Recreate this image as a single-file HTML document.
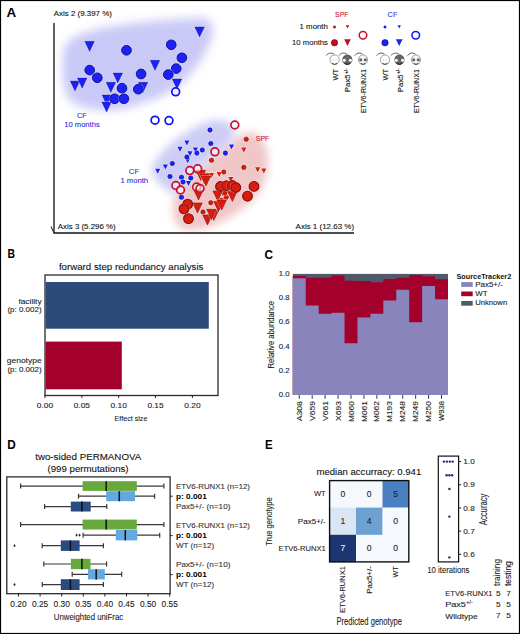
<!DOCTYPE html><html><head><meta charset="utf-8"><style>html,body{margin:0;padding:0;background:#fff;}svg{display:block;}text{font-family:"Liberation Sans",sans-serif;stroke-width:0.1px;paint-order:stroke;}text[font-weight="bold"]{stroke-width:0;}</style></head><body>
<svg width="520" height="634" viewBox="0 0 520 634">
<defs><filter id="bl1" x="-30%" y="-30%" width="160%" height="160%"><feGaussianBlur stdDeviation="5"/></filter><filter id="bl2" x="-30%" y="-30%" width="160%" height="160%"><feGaussianBlur stdDeviation="4"/></filter><filter id="bl3" x="-30%" y="-30%" width="160%" height="160%"><feGaussianBlur stdDeviation="4"/></filter></defs>
<rect x="0" y="0" width="520" height="634" fill="#fff"/>
<text x="6.50" y="16.80" font-size="12" fill="#000" stroke="#000" font-weight="bold" textLength="9.70" lengthAdjust="spacingAndGlyphs">A</text>
<path filter="url(#bl1)" d="M68,42 C80,28 140,20 202,18 C213,18 215,28 211,40 C205,56 194,72 181,84 C170,94 150,101 130,107 C110,113 85,110 72,102 C62,94 62,70 63,58 C63,50 65,45 68,42 Z" fill="#c9c9f7"/>
<path filter="url(#bl2)" d="M173,205 C172,195 185,180 200,168 C215,155 232,138 246,133 C255,131 263,137 266,148 C270,160 268,175 262,188 C255,200 240,212 225,220 C210,228 195,232 183,229 C175,226 173,215 173,205 Z" fill="#f0c6c7"/>
<path filter="url(#bl3)" opacity="0.88" d="M153,165 C160,150 185,130 209,121 C220,118 230,120 234,128 C238,136 228,146 215,155 C200,166 190,178 182,192 C175,196 165,190 158,182 C152,176 150,170 153,165 Z" fill="#c6c6f4"/>
<line x1="54" y1="22.9" x2="54" y2="233" stroke="#3a3a3a" stroke-width="1.6"/>
<line x1="53.4" y1="233" x2="354" y2="233" stroke="#111" stroke-width="1.5"/>
<line x1="51" y1="226.5" x2="54" y2="233" stroke="#333" stroke-width="1.1"/>
<text x="53.80" y="16.20" font-size="7.4" fill="#111" stroke="#111" font-weight="normal" textLength="58.10" lengthAdjust="spacingAndGlyphs">Axis 2 (9.397 %)</text>
<text x="57.80" y="228.80" font-size="7.4" fill="#111" stroke="#111" font-weight="normal" textLength="57.90" lengthAdjust="spacingAndGlyphs">Axis 3 (5.296 %)</text>
<text x="295.60" y="228.80" font-size="7.4" fill="#111" stroke="#111" font-weight="normal" textLength="58.50" lengthAdjust="spacingAndGlyphs">Axis 1 (12.63 %)</text>
<text x="76.90" y="118.20" font-size="7" fill="#3030e6" stroke="#3030e6" font-weight="normal" textLength="9.70" lengthAdjust="spacingAndGlyphs">CF</text>
<text x="64.30" y="127.00" font-size="7" fill="#3030e6" stroke="#3030e6" font-weight="normal" textLength="35.40" lengthAdjust="spacingAndGlyphs">10 months</text>
<text x="128.80" y="173.80" font-size="7" fill="#3030e6" stroke="#3030e6" font-weight="normal" textLength="10.40" lengthAdjust="spacingAndGlyphs">CF</text>
<text x="120.40" y="182.60" font-size="7" fill="#3030e6" stroke="#3030e6" font-weight="normal" textLength="27.70" lengthAdjust="spacingAndGlyphs">1 month</text>
<text x="255.70" y="141.25" font-size="7.6" fill="#cc1c30" stroke="#cc1c30" font-weight="normal" textLength="13.70" lengthAdjust="spacingAndGlyphs">SPF</text>
<polygon points="84.8,41.3 94.4,41.3 89.6,51.5" fill="none" stroke="#fff" stroke-width="1.6" opacity="0.5" stroke-linejoin="round"/><polygon points="84.8,41.3 94.4,41.3 89.6,51.5" fill="#1c22f5" stroke="#0a0a90" stroke-width="0.4"/>
<polygon points="70.2,80.9 79.8,80.9 75.0,91.1" fill="none" stroke="#fff" stroke-width="1.6" opacity="0.5" stroke-linejoin="round"/><polygon points="70.2,80.9 79.8,80.9 75.0,91.1" fill="#1c22f5" stroke="#0a0a90" stroke-width="0.4"/>
<polygon points="77.4,78.1 87.0,78.1 82.2,88.3" fill="none" stroke="#fff" stroke-width="1.6" opacity="0.5" stroke-linejoin="round"/><polygon points="77.4,78.1 87.0,78.1 82.2,88.3" fill="#1c22f5" stroke="#0a0a90" stroke-width="0.4"/>
<polygon points="113.0,72.9 122.6,72.9 117.8,83.1" fill="none" stroke="#fff" stroke-width="1.6" opacity="0.5" stroke-linejoin="round"/><polygon points="113.0,72.9 122.6,72.9 117.8,83.1" fill="#1c22f5" stroke="#0a0a90" stroke-width="0.4"/>
<polygon points="106.1,82.3 115.7,82.3 110.9,92.5" fill="none" stroke="#fff" stroke-width="1.6" opacity="0.5" stroke-linejoin="round"/><polygon points="106.1,82.3 115.7,82.3 110.9,92.5" fill="#1c22f5" stroke="#0a0a90" stroke-width="0.4"/>
<polygon points="102.0,94.9 111.6,94.9 106.8,105.1" fill="none" stroke="#fff" stroke-width="1.6" opacity="0.5" stroke-linejoin="round"/><polygon points="102.0,94.9 111.6,94.9 106.8,105.1" fill="#1c22f5" stroke="#0a0a90" stroke-width="0.4"/>
<polygon points="101.8,101.9 111.4,101.9 106.6,112.1" fill="none" stroke="#fff" stroke-width="1.6" opacity="0.5" stroke-linejoin="round"/><polygon points="101.8,101.9 111.4,101.9 106.6,112.1" fill="#1c22f5" stroke="#0a0a90" stroke-width="0.4"/>
<polygon points="194.8,26.9 204.4,26.9 199.6,37.1" fill="none" stroke="#fff" stroke-width="1.6" opacity="0.5" stroke-linejoin="round"/><polygon points="194.8,26.9 204.4,26.9 199.6,37.1" fill="#1c22f5" stroke="#0a0a90" stroke-width="0.4"/>
<polygon points="150.2,60.3 159.8,60.3 155.0,70.5" fill="none" stroke="#fff" stroke-width="1.6" opacity="0.5" stroke-linejoin="round"/><polygon points="150.2,60.3 159.8,60.3 155.0,70.5" fill="#1c22f5" stroke="#0a0a90" stroke-width="0.4"/>
<polygon points="172.2,78.9 181.8,78.9 177.0,89.1" fill="none" stroke="#fff" stroke-width="1.6" opacity="0.5" stroke-linejoin="round"/><polygon points="172.2,78.9 181.8,78.9 177.0,89.1" fill="#1c22f5" stroke="#0a0a90" stroke-width="0.4"/>
<polygon points="138.2,82.3 147.8,82.3 143.0,92.5" fill="none" stroke="#fff" stroke-width="1.6" opacity="0.5" stroke-linejoin="round"/><polygon points="138.2,82.3 147.8,82.3 143.0,92.5" fill="#1c22f5" stroke="#0a0a90" stroke-width="0.4"/>
<circle cx="126.5" cy="50.3" r="5.800000000000001" fill="#fff" opacity="0.5"/><circle cx="126.5" cy="50.3" r="4.9" fill="#1c22f5" stroke="#0a0a90" stroke-width="0.9"/>
<circle cx="89.7" cy="70.1" r="5.800000000000001" fill="#fff" opacity="0.5"/><circle cx="89.7" cy="70.1" r="4.9" fill="#1c22f5" stroke="#0a0a90" stroke-width="0.9"/>
<circle cx="97.3" cy="77.8" r="5.800000000000001" fill="#fff" opacity="0.5"/><circle cx="97.3" cy="77.8" r="4.9" fill="#1c22f5" stroke="#0a0a90" stroke-width="0.9"/>
<circle cx="122" cy="88.2" r="5.800000000000001" fill="#fff" opacity="0.5"/><circle cx="122" cy="88.2" r="4.9" fill="#1c22f5" stroke="#0a0a90" stroke-width="0.9"/>
<circle cx="114.6" cy="98.8" r="5.800000000000001" fill="#fff" opacity="0.5"/><circle cx="114.6" cy="98.8" r="4.9" fill="#1c22f5" stroke="#0a0a90" stroke-width="0.9"/>
<circle cx="123.9" cy="98.8" r="5.800000000000001" fill="#fff" opacity="0.5"/><circle cx="123.9" cy="98.8" r="4.9" fill="#1c22f5" stroke="#0a0a90" stroke-width="0.9"/>
<circle cx="171.25" cy="44.8" r="5.800000000000001" fill="#fff" opacity="0.5"/><circle cx="171.25" cy="44.8" r="4.9" fill="#1c22f5" stroke="#0a0a90" stroke-width="0.9"/>
<circle cx="181.9" cy="57.8" r="5.800000000000001" fill="#fff" opacity="0.5"/><circle cx="181.9" cy="57.8" r="4.9" fill="#1c22f5" stroke="#0a0a90" stroke-width="0.9"/>
<circle cx="176.2" cy="68.6" r="5.800000000000001" fill="#fff" opacity="0.5"/><circle cx="176.2" cy="68.6" r="4.9" fill="#1c22f5" stroke="#0a0a90" stroke-width="0.9"/>
<circle cx="141.1" cy="74" r="5.800000000000001" fill="#fff" opacity="0.5"/><circle cx="141.1" cy="74" r="4.9" fill="#1c22f5" stroke="#0a0a90" stroke-width="0.9"/>
<circle cx="168.3" cy="74.6" r="5.800000000000001" fill="#fff" opacity="0.5"/><circle cx="168.3" cy="74.6" r="4.9" fill="#1c22f5" stroke="#0a0a90" stroke-width="0.9"/>
<circle cx="138.3" cy="89.2" r="5.800000000000001" fill="#fff" opacity="0.5"/><circle cx="138.3" cy="89.2" r="4.9" fill="#1c22f5" stroke="#0a0a90" stroke-width="0.9"/>
<circle cx="175.7" cy="91.8" r="3.9" fill="#fff" fill-opacity="0.55" stroke="#1010ff" stroke-width="1.7"/>
<circle cx="155" cy="120.2" r="3.9" fill="#fff" fill-opacity="0.55" stroke="#1010ff" stroke-width="1.7"/>
<circle cx="169" cy="120.6" r="3.9" fill="#fff" fill-opacity="0.55" stroke="#1010ff" stroke-width="1.7"/>
<polygon points="184.3,140.6 189.5,140.6 186.9,145.6" fill="none" stroke="#fff" stroke-width="1.6" opacity="0.5" stroke-linejoin="round"/><polygon points="184.3,140.6 189.5,140.6 186.9,145.6" fill="#1c22f5"/>
<polygon points="177.4,146.7 182.6,146.7 180.0,151.7" fill="none" stroke="#fff" stroke-width="1.6" opacity="0.5" stroke-linejoin="round"/><polygon points="177.4,146.7 182.6,146.7 180.0,151.7" fill="#1c22f5"/>
<polygon points="192.8,147.5 198.0,147.5 195.4,152.5" fill="none" stroke="#fff" stroke-width="1.6" opacity="0.5" stroke-linejoin="round"/><polygon points="192.8,147.5 198.0,147.5 195.4,152.5" fill="#1c22f5"/>
<polygon points="187.4,151.3 192.6,151.3 190.0,156.3" fill="none" stroke="#fff" stroke-width="1.6" opacity="0.5" stroke-linejoin="round"/><polygon points="187.4,151.3 192.6,151.3 190.0,156.3" fill="#1c22f5"/>
<polygon points="185.1,158.3 190.3,158.3 187.7,163.3" fill="none" stroke="#fff" stroke-width="1.6" opacity="0.5" stroke-linejoin="round"/><polygon points="185.1,158.3 190.3,158.3 187.7,163.3" fill="#1c22f5"/>
<polygon points="162.8,164.5 168.0,164.5 165.4,169.5" fill="none" stroke="#fff" stroke-width="1.6" opacity="0.5" stroke-linejoin="round"/><polygon points="162.8,164.5 168.0,164.5 165.4,169.5" fill="#1c22f5"/>
<polygon points="155.1,168.7 160.3,168.7 157.7,173.7" fill="none" stroke="#fff" stroke-width="1.6" opacity="0.5" stroke-linejoin="round"/><polygon points="155.1,168.7 160.3,168.7 157.7,173.7" fill="#1c22f5"/>
<polygon points="228.9,144.4 234.1,144.4 231.5,149.4" fill="none" stroke="#fff" stroke-width="1.6" opacity="0.5" stroke-linejoin="round"/><polygon points="228.9,144.4 234.1,144.4 231.5,149.4" fill="#1c22f5"/>
<polygon points="185.9,181.0 191.1,181.0 188.5,186.0" fill="none" stroke="#fff" stroke-width="1.6" opacity="0.5" stroke-linejoin="round"/><polygon points="185.9,181.0 191.1,181.0 188.5,186.0" fill="#1c22f5"/>
<circle cx="196.9" cy="153.1" r="3.1999999999999997" fill="#fff" opacity="0.5"/><circle cx="196.9" cy="153.1" r="2.3" fill="#1c22f5" stroke="#0a0a90" stroke-width="0.5"/>
<circle cx="186.9" cy="157" r="3.1999999999999997" fill="#fff" opacity="0.5"/><circle cx="186.9" cy="157" r="2.3" fill="#1c22f5" stroke="#0a0a90" stroke-width="0.5"/>
<circle cx="172.3" cy="163.5" r="3.1999999999999997" fill="#fff" opacity="0.5"/><circle cx="172.3" cy="163.5" r="2.3" fill="#1c22f5" stroke="#0a0a90" stroke-width="0.5"/>
<circle cx="170" cy="176.5" r="3.1999999999999997" fill="#fff" opacity="0.5"/><circle cx="170" cy="176.5" r="2.3" fill="#1c22f5" stroke="#0a0a90" stroke-width="0.5"/>
<circle cx="210" cy="130" r="3.1999999999999997" fill="#fff" opacity="0.5"/><circle cx="210" cy="130" r="2.3" fill="#1c22f5" stroke="#0a0a90" stroke-width="0.5"/>
<circle cx="210.8" cy="143.5" r="3.1999999999999997" fill="#fff" opacity="0.5"/><circle cx="210.8" cy="143.5" r="2.3" fill="#1c22f5" stroke="#0a0a90" stroke-width="0.5"/>
<circle cx="202.3" cy="150" r="3.1999999999999997" fill="#fff" opacity="0.5"/><circle cx="202.3" cy="150" r="2.3" fill="#1c22f5" stroke="#0a0a90" stroke-width="0.5"/>
<circle cx="225.4" cy="153.1" r="3.1999999999999997" fill="#fff" opacity="0.5"/><circle cx="225.4" cy="153.1" r="2.3" fill="#1c22f5" stroke="#0a0a90" stroke-width="0.5"/>
<circle cx="181.5" cy="177.3" r="3.1999999999999997" fill="#fff" opacity="0.5"/><circle cx="181.5" cy="177.3" r="2.3" fill="#1c22f5" stroke="#0a0a90" stroke-width="0.5"/>
<circle cx="190.8" cy="178" r="3.1999999999999997" fill="#fff" opacity="0.5"/><circle cx="190.8" cy="178" r="2.3" fill="#1c22f5" stroke="#0a0a90" stroke-width="0.5"/>
<circle cx="183" cy="182" r="3.1999999999999997" fill="#fff" opacity="0.5"/><circle cx="183" cy="182" r="2.3" fill="#1c22f5" stroke="#0a0a90" stroke-width="0.5"/>
<circle cx="181.5" cy="197.3" r="3.1999999999999997" fill="#fff" opacity="0.5"/><circle cx="181.5" cy="197.3" r="2.3" fill="#1c22f5" stroke="#0a0a90" stroke-width="0.5"/>
<polygon points="241.2,147.5 246.4,147.5 243.8,152.5" fill="none" stroke="#fff" stroke-width="1.6" opacity="0.5" stroke-linejoin="round"/><polygon points="241.2,147.5 246.4,147.5 243.8,152.5" fill="#d81c0e"/>
<polygon points="216.6,172.1 221.8,172.1 219.2,177.1" fill="none" stroke="#fff" stroke-width="1.6" opacity="0.5" stroke-linejoin="round"/><polygon points="216.6,172.1 221.8,172.1 219.2,177.1" fill="#d81c0e"/>
<polygon points="208.9,172.9 214.1,172.9 211.5,177.9" fill="none" stroke="#fff" stroke-width="1.6" opacity="0.5" stroke-linejoin="round"/><polygon points="208.9,172.9 214.1,172.9 211.5,177.9" fill="#d81c0e"/>
<polygon points="228.2,177.1 233.4,177.1 230.8,182.1" fill="none" stroke="#fff" stroke-width="1.6" opacity="0.5" stroke-linejoin="round"/><polygon points="228.2,177.1 233.4,177.1 230.8,182.1" fill="#d81c0e"/>
<polygon points="255.1,167.2 260.3,167.2 257.7,172.2" fill="none" stroke="#fff" stroke-width="1.6" opacity="0.5" stroke-linejoin="round"/><polygon points="255.1,167.2 260.3,167.2 257.7,172.2" fill="#d81c0e"/>
<polygon points="261.2,168.5 266.4,168.5 263.8,173.5" fill="none" stroke="#fff" stroke-width="1.6" opacity="0.5" stroke-linejoin="round"/><polygon points="261.2,168.5 266.4,168.5 263.8,173.5" fill="#d81c0e"/>
<circle cx="246.2" cy="139.2" r="3.1999999999999997" fill="#fff" opacity="0.5"/><circle cx="246.2" cy="139.2" r="2.3" fill="#d81c0e" stroke="#8a0a0a" stroke-width="0.5"/>
<circle cx="211.5" cy="160.3" r="3.1999999999999997" fill="#fff" opacity="0.5"/><circle cx="211.5" cy="160.3" r="2.3" fill="#d81c0e" stroke="#8a0a0a" stroke-width="0.5"/>
<circle cx="243.8" cy="167.4" r="3.1999999999999997" fill="#fff" opacity="0.5"/><circle cx="243.8" cy="167.4" r="2.3" fill="#d81c0e" stroke="#8a0a0a" stroke-width="0.5"/>
<circle cx="223.8" cy="172" r="3.1999999999999997" fill="#fff" opacity="0.5"/><circle cx="223.8" cy="172" r="2.3" fill="#d81c0e" stroke="#8a0a0a" stroke-width="0.5"/>
<circle cx="210.8" cy="202.7" r="3.1999999999999997" fill="#fff" opacity="0.5"/><circle cx="210.8" cy="202.7" r="2.3" fill="#d81c0e" stroke="#8a0a0a" stroke-width="0.5"/>
<circle cx="203" cy="212" r="3.1999999999999997" fill="#fff" opacity="0.5"/><circle cx="203" cy="212" r="2.3" fill="#d81c0e" stroke="#8a0a0a" stroke-width="0.5"/>
<circle cx="223.8" cy="193.5" r="3.1999999999999997" fill="#fff" opacity="0.5"/><circle cx="223.8" cy="193.5" r="2.3" fill="#d81c0e" stroke="#8a0a0a" stroke-width="0.5"/>
<circle cx="226.2" cy="197.3" r="3.1999999999999997" fill="#fff" opacity="0.5"/><circle cx="226.2" cy="197.3" r="2.3" fill="#d81c0e" stroke="#8a0a0a" stroke-width="0.5"/>
<circle cx="221.5" cy="200.4" r="3.1999999999999997" fill="#fff" opacity="0.5"/><circle cx="221.5" cy="200.4" r="2.3" fill="#d81c0e" stroke="#8a0a0a" stroke-width="0.5"/>
<circle cx="232.3" cy="195.8" r="3.1999999999999997" fill="#fff" opacity="0.5"/><circle cx="232.3" cy="195.8" r="2.3" fill="#d81c0e" stroke="#8a0a0a" stroke-width="0.5"/>
<circle cx="225" cy="193" r="3.1999999999999997" fill="#fff" opacity="0.5"/><circle cx="225" cy="193" r="2.3" fill="#d81c0e" stroke="#8a0a0a" stroke-width="0.5"/>
<polygon points="196.0,170.3 205.6,170.3 200.8,180.5" fill="none" stroke="#fff" stroke-width="1.6" opacity="0.5" stroke-linejoin="round"/><polygon points="196.0,170.3 205.6,170.3 200.8,180.5" fill="#d81c0e" stroke="#8a0a0a" stroke-width="0.6"/>
<polygon points="199.8,173.7 209.4,173.7 204.6,183.9" fill="none" stroke="#fff" stroke-width="1.6" opacity="0.5" stroke-linejoin="round"/><polygon points="199.8,173.7 209.4,173.7 204.6,183.9" fill="#d81c0e" stroke="#8a0a0a" stroke-width="0.6"/>
<polygon points="201.2,175.9 210.8,175.9 206.0,186.1" fill="none" stroke="#fff" stroke-width="1.6" opacity="0.5" stroke-linejoin="round"/><polygon points="201.2,175.9 210.8,175.9 206.0,186.1" fill="#d81c0e" stroke="#8a0a0a" stroke-width="0.6"/>
<polygon points="192.7,202.9 202.3,202.9 197.5,213.1" fill="none" stroke="#fff" stroke-width="1.6" opacity="0.5" stroke-linejoin="round"/><polygon points="192.7,202.9 202.3,202.9 197.5,213.1" fill="#d81c0e" stroke="#8a0a0a" stroke-width="0.6"/>
<polygon points="193.7,189.9 203.3,189.9 198.5,200.1" fill="none" stroke="#fff" stroke-width="1.6" opacity="0.5" stroke-linejoin="round"/><polygon points="193.7,189.9 203.3,189.9 198.5,200.1" fill="#d81c0e" stroke="#8a0a0a" stroke-width="0.6"/>
<polygon points="209.0,210.4 218.6,210.4 213.8,220.6" fill="none" stroke="#fff" stroke-width="1.6" opacity="0.5" stroke-linejoin="round"/><polygon points="209.0,210.4 218.6,210.4 213.8,220.6" fill="#d81c0e" stroke="#8a0a0a" stroke-width="0.6"/>
<polygon points="202.7,214.9 212.3,214.9 207.5,225.1" fill="none" stroke="#fff" stroke-width="1.6" opacity="0.5" stroke-linejoin="round"/><polygon points="202.7,214.9 212.3,214.9 207.5,225.1" fill="#d81c0e" stroke="#8a0a0a" stroke-width="0.6"/>
<polygon points="213.7,201.4 223.3,201.4 218.5,211.6" fill="none" stroke="#fff" stroke-width="1.6" opacity="0.5" stroke-linejoin="round"/><polygon points="213.7,201.4 223.3,201.4 218.5,211.6" fill="#d81c0e" stroke="#8a0a0a" stroke-width="0.6"/>
<polygon points="212.9,190.9 222.5,190.9 217.7,201.1" fill="none" stroke="#fff" stroke-width="1.6" opacity="0.5" stroke-linejoin="round"/><polygon points="212.9,190.9 222.5,190.9 217.7,201.1" fill="#d81c0e" stroke="#8a0a0a" stroke-width="0.6"/>
<polygon points="227.6,191.4 237.2,191.4 232.4,201.6" fill="none" stroke="#fff" stroke-width="1.6" opacity="0.5" stroke-linejoin="round"/><polygon points="227.6,191.4 237.2,191.4 232.4,201.6" fill="#d81c0e" stroke="#8a0a0a" stroke-width="0.6"/>
<polygon points="216.9,199.9 226.5,199.9 221.7,210.1" fill="none" stroke="#fff" stroke-width="1.6" opacity="0.5" stroke-linejoin="round"/><polygon points="216.9,199.9 226.5,199.9 221.7,210.1" fill="#d81c0e" stroke="#8a0a0a" stroke-width="0.6"/>
<polygon points="206.7,209.3 216.3,209.3 211.5,219.5" fill="none" stroke="#fff" stroke-width="1.6" opacity="0.5" stroke-linejoin="round"/><polygon points="206.7,209.3 216.3,209.3 211.5,219.5" fill="#d81c0e" stroke="#8a0a0a" stroke-width="0.6"/>
<circle cx="220.5" cy="186.5" r="5.800000000000001" fill="#fff" opacity="0.5"/><circle cx="220.5" cy="186.5" r="4.9" fill="#d81c0e" stroke="#8a0a0a" stroke-width="1.1"/>
<circle cx="226.5" cy="185.6" r="5.800000000000001" fill="#fff" opacity="0.5"/><circle cx="226.5" cy="185.6" r="4.9" fill="#d81c0e" stroke="#8a0a0a" stroke-width="1.1"/>
<circle cx="232.3" cy="185.5" r="5.800000000000001" fill="#fff" opacity="0.5"/><circle cx="232.3" cy="185.5" r="4.9" fill="#d81c0e" stroke="#8a0a0a" stroke-width="1.1"/>
<circle cx="235.8" cy="187.5" r="5.800000000000001" fill="#fff" opacity="0.5"/><circle cx="235.8" cy="187.5" r="4.9" fill="#d81c0e" stroke="#8a0a0a" stroke-width="1.1"/>
<circle cx="187.7" cy="204.2" r="5.800000000000001" fill="#fff" opacity="0.5"/><circle cx="187.7" cy="204.2" r="4.9" fill="#d81c0e" stroke="#8a0a0a" stroke-width="1.1"/>
<circle cx="184" cy="208.8" r="5.800000000000001" fill="#fff" opacity="0.5"/><circle cx="184" cy="208.8" r="4.9" fill="#d81c0e" stroke="#8a0a0a" stroke-width="1.1"/>
<circle cx="188.5" cy="218.6" r="5.800000000000001" fill="#fff" opacity="0.5"/><circle cx="188.5" cy="218.6" r="4.9" fill="#d81c0e" stroke="#8a0a0a" stroke-width="1.1"/>
<circle cx="254" cy="186.4" r="5.800000000000001" fill="#fff" opacity="0.5"/><circle cx="254" cy="186.4" r="4.9" fill="#d81c0e" stroke="#8a0a0a" stroke-width="1.1"/>
<circle cx="247.5" cy="196.2" r="5.800000000000001" fill="#fff" opacity="0.5"/><circle cx="247.5" cy="196.2" r="4.9" fill="#d81c0e" stroke="#8a0a0a" stroke-width="1.1"/>
<circle cx="234.8" cy="125" r="3.9" fill="#fff" fill-opacity="0.55" stroke="#c8102e" stroke-width="1.7"/>
<circle cx="214.9" cy="151.8" r="3.9" fill="#fff" fill-opacity="0.55" stroke="#c8102e" stroke-width="1.7"/>
<circle cx="189.8" cy="170.6" r="3.9" fill="#fff" fill-opacity="0.55" stroke="#c8102e" stroke-width="1.7"/>
<circle cx="197.7" cy="168.8" r="3.9" fill="#fff" fill-opacity="0.55" stroke="#c8102e" stroke-width="1.7"/>
<circle cx="175.9" cy="185.5" r="3.9" fill="#fff" fill-opacity="0.55" stroke="#c8102e" stroke-width="1.7"/>
<circle cx="180.5" cy="190" r="3.9" fill="#fff" fill-opacity="0.55" stroke="#c8102e" stroke-width="1.7"/>
<circle cx="196.6" cy="187" r="3.9" fill="#fff" fill-opacity="0.55" stroke="#c8102e" stroke-width="1.7"/>
<circle cx="200" cy="188.5" r="3.9" fill="#fff" fill-opacity="0.55" stroke="#c8102e" stroke-width="1.7"/>
<text x="335.10" y="17.25" font-size="7.2" fill="#c4142c" stroke="#c4142c" font-weight="normal" textLength="13.30" lengthAdjust="spacingAndGlyphs">SPF</text>
<text x="387.60" y="17.25" font-size="7.2" fill="#3030e6" stroke="#3030e6" font-weight="normal" textLength="9.80" lengthAdjust="spacingAndGlyphs">CF</text>
<text x="299.60" y="29.00" font-size="7.2" fill="#111" stroke="#111" font-weight="normal" textLength="28.30" lengthAdjust="spacingAndGlyphs">1 month</text>
<text x="292.10" y="44.75" font-size="7.2" fill="#111" stroke="#111" font-weight="normal" textLength="35.80" lengthAdjust="spacingAndGlyphs">10 months</text>
<circle cx="334.5" cy="27" r="1.3" fill="#c01020" stroke="#700" stroke-width="0.3"/>
<polygon points="345.8,25.2 349.2,25.2 347.5,28.4" fill="#c01020"/>
<circle cx="385" cy="27" r="1.3" fill="#1c22f5" stroke="#0a0a90" stroke-width="0.3"/>
<polygon points="397.6,25.2 400.9,25.2 399.2,28.4" fill="#1c22f5"/>
<circle cx="334.5" cy="42.75" r="3.2" fill="#c01020" stroke="#700" stroke-width="0.6"/>
<polygon points="344.2,39.3 350.8,39.3 347.5,45.9" fill="#c01020"/>
<circle cx="385" cy="42.75" r="3.2" fill="#1c22f5" stroke="#0a0a90" stroke-width="0.6"/>
<polygon points="395.9,39.3 402.6,39.3 399.2,45.9" fill="#1c22f5"/>
<circle cx="363" cy="35.25" r="3.8" fill="#fff" fill-opacity="0.55" stroke="#c8102e" stroke-width="1.5"/>
<circle cx="415.75" cy="35.25" r="3.8" fill="#fff" fill-opacity="0.55" stroke="#1010ff" stroke-width="1.5"/>
<path d="M326.1,55.599999999999994 C328.1,53.5 330.6,51.8 334.1,54.199999999999996" fill="none" stroke="#333" stroke-width="0.8"/><ellipse cx="334.6" cy="59.8" rx="4.6" ry="4.9" fill="#fff" stroke="#888" stroke-width="0.8"/><path d="M332.0,63.4 Q334.6,65.2 337.20000000000005,63.4" fill="none" stroke="#444" stroke-width="1"/><path d="M332.6,59.4 l1.2,0.8 M336.6,59.4 l-1.2,0.8" stroke="#999" stroke-width="0.6"/>
<path d="M338.8,55.599999999999994 C340.8,53.5 343.3,51.8 346.8,54.199999999999996" fill="none" stroke="#333" stroke-width="0.8"/><ellipse cx="347.3" cy="59.8" rx="4.6" ry="4.9" fill="#666" stroke="#444" stroke-width="0.8"/><circle cx="344.2" cy="60.199999999999996" r="1.5" fill="#fff"/><circle cx="350.40000000000003" cy="60.199999999999996" r="1.5" fill="#fff"/><path d="M344.90000000000003,63.4 Q347.3,65.2 349.7,63.4" fill="none" stroke="#222" stroke-width="1"/>
<path d="M354.5,55.599999999999994 C356.5,53.5 359,51.8 362.5,54.199999999999996" fill="none" stroke="#333" stroke-width="0.8"/><ellipse cx="363" cy="59.8" rx="4.6" ry="4.9" fill="#f6f6f6" stroke="#888" stroke-width="0.8"/><circle cx="360.7" cy="59.8" r="1.6" fill="#666"/><circle cx="365.3" cy="59.8" r="1.6" fill="#666"/><path d="M360.6,63.4 Q363,65.2 365.4,63.4" fill="none" stroke="#444" stroke-width="1"/>
<path d="M376.5,55.599999999999994 C378.5,53.5 381,51.8 384.5,54.199999999999996" fill="none" stroke="#333" stroke-width="0.8"/><ellipse cx="385" cy="59.8" rx="4.6" ry="4.9" fill="#fff" stroke="#888" stroke-width="0.8"/><path d="M382.4,63.4 Q385,65.2 387.6,63.4" fill="none" stroke="#444" stroke-width="1"/><path d="M383,59.4 l1.2,0.8 M387,59.4 l-1.2,0.8" stroke="#999" stroke-width="0.6"/>
<path d="M390.9,55.599999999999994 C392.9,53.5 395.4,51.8 398.9,54.199999999999996" fill="none" stroke="#333" stroke-width="0.8"/><ellipse cx="399.4" cy="59.8" rx="4.6" ry="4.9" fill="#666" stroke="#444" stroke-width="0.8"/><circle cx="396.29999999999995" cy="60.199999999999996" r="1.5" fill="#fff"/><circle cx="402.5" cy="60.199999999999996" r="1.5" fill="#fff"/><path d="M397.0,63.4 Q399.4,65.2 401.79999999999995,63.4" fill="none" stroke="#222" stroke-width="1"/>
<path d="M407.5,55.599999999999994 C409.5,53.5 412,51.8 415.5,54.199999999999996" fill="none" stroke="#333" stroke-width="0.8"/><ellipse cx="416" cy="59.8" rx="4.6" ry="4.9" fill="#f6f6f6" stroke="#888" stroke-width="0.8"/><circle cx="413.7" cy="59.8" r="1.6" fill="#666"/><circle cx="418.3" cy="59.8" r="1.6" fill="#666"/><path d="M413.6,63.4 Q416,65.2 418.4,63.4" fill="none" stroke="#444" stroke-width="1"/>
<text transform="translate(338.20,80.40) rotate(-90)" x="0" y="0" font-size="7.2" fill="#111" stroke="#111" font-weight="normal" textLength="11.50" lengthAdjust="spacingAndGlyphs">WT</text>
<text transform="translate(350.30,92.20) rotate(-90)" x="0" y="0" font-size="7.2" fill="#111" stroke="#111" font-weight="normal" textLength="23.90" lengthAdjust="spacingAndGlyphs">Pax5<tspan font-size="4.6" dy="-2.8">+/-</tspan></text>
<text transform="translate(365.90,113.10) rotate(-90)" x="0" y="0" font-size="7.2" fill="#111" stroke="#111" font-weight="normal" textLength="43.90" lengthAdjust="spacingAndGlyphs">ETV6-RUNX1</text>
<text transform="translate(388.20,80.40) rotate(-90)" x="0" y="0" font-size="7.2" fill="#111" stroke="#111" font-weight="normal" textLength="11.50" lengthAdjust="spacingAndGlyphs">WT</text>
<text transform="translate(403.20,92.20) rotate(-90)" x="0" y="0" font-size="7.2" fill="#111" stroke="#111" font-weight="normal" textLength="23.90" lengthAdjust="spacingAndGlyphs">Pax5<tspan font-size="4.6" dy="-2.8">+/-</tspan></text>
<text transform="translate(418.70,113.10) rotate(-90)" x="0" y="0" font-size="7.2" fill="#111" stroke="#111" font-weight="normal" textLength="43.90" lengthAdjust="spacingAndGlyphs">ETV6-RUNX1</text>
<text x="7.40" y="258.30" font-size="12" fill="#000" stroke="#000" font-weight="bold" textLength="7.50" lengthAdjust="spacingAndGlyphs">B</text>
<text x="58.90" y="269.50" font-size="9.6" fill="#111" stroke="#111" font-weight="normal" textLength="144.50" lengthAdjust="spacingAndGlyphs">forward step redundancy analysis</text>
<rect x="45" y="275" width="173" height="120.5" fill="none" stroke="#2a2a2a" stroke-width="1.3"/>
<rect x="45.6" y="282" width="163.2" height="46.7" fill="#2d4a7b"/>
<rect x="45.6" y="341.6" width="76.2" height="47.7" fill="#a3002b"/>
<text x="18.40" y="303.80" font-size="7.8" fill="#222" stroke="#222" font-weight="normal" textLength="23.20" lengthAdjust="spacingAndGlyphs">facility</text>
<text x="7.40" y="312.30" font-size="7.2" fill="#222" stroke="#222" font-weight="normal" textLength="34.20" lengthAdjust="spacingAndGlyphs">(p: 0.002)</text>
<text x="6.80" y="363.10" font-size="7.8" fill="#222" stroke="#222" font-weight="normal" textLength="34.80" lengthAdjust="spacingAndGlyphs">genotype</text>
<text x="7.40" y="372.40" font-size="7.2" fill="#222" stroke="#222" font-weight="normal" textLength="34.20" lengthAdjust="spacingAndGlyphs">(p: 0.002)</text>
<line x1="45.00" y1="395" x2="45.00" y2="398" stroke="#222" stroke-width="1"/>
<text x="36.85" y="408.25" font-size="7.8" fill="#222" stroke="#222" font-weight="normal" textLength="16.30" lengthAdjust="spacingAndGlyphs">0.00</text>
<line x1="81.85" y1="395" x2="81.85" y2="398" stroke="#222" stroke-width="1"/>
<text x="73.70" y="408.25" font-size="7.8" fill="#222" stroke="#222" font-weight="normal" textLength="16.30" lengthAdjust="spacingAndGlyphs">0.05</text>
<line x1="118.70" y1="395" x2="118.70" y2="398" stroke="#222" stroke-width="1"/>
<text x="110.55" y="408.25" font-size="7.8" fill="#222" stroke="#222" font-weight="normal" textLength="16.30" lengthAdjust="spacingAndGlyphs">0.10</text>
<line x1="155.55" y1="395" x2="155.55" y2="398" stroke="#222" stroke-width="1"/>
<text x="147.40" y="408.25" font-size="7.8" fill="#222" stroke="#222" font-weight="normal" textLength="16.30" lengthAdjust="spacingAndGlyphs">0.15</text>
<line x1="192.40" y1="395" x2="192.40" y2="398" stroke="#222" stroke-width="1"/>
<text x="184.25" y="408.25" font-size="7.8" fill="#222" stroke="#222" font-weight="normal" textLength="16.30" lengthAdjust="spacingAndGlyphs">0.20</text>
<text x="114.60" y="420.75" font-size="7.6" fill="#222" stroke="#222" font-weight="normal" textLength="32.80" lengthAdjust="spacingAndGlyphs">Effect size</text>
<text x="264.60" y="258.80" font-size="12" fill="#000" stroke="#000" font-weight="bold" textLength="8.50" lengthAdjust="spacingAndGlyphs">C</text>
<rect x="292.8" y="273.9" width="155.2" height="121.10000000000002" fill="#4f5a6b"/>
<polygon points="292.80,275.90 305.73,275.90 305.73,277.70 318.67,277.70 318.67,277.70 331.60,277.70 331.60,275.60 344.53,275.60 344.53,280.70 357.47,280.70 357.47,281.00 370.40,281.00 370.40,282.20 383.33,282.20 383.33,278.90 396.27,278.90 396.27,277.80 409.20,277.80 409.20,275.00 422.13,275.00 422.13,276.20 435.07,276.20 435.07,279.20 448.00,279.20 448.00,395.0 292.80,395.0" fill="#a3002b"/>
<polygon points="292.80,278.26 305.73,278.26 305.73,305.39 318.67,305.39 318.67,313.86 331.60,313.86 331.60,312.65 344.53,312.65 344.53,343.29 357.47,343.29 357.47,317.50 370.40,317.50 370.40,313.86 383.33,313.86 383.33,300.54 396.27,300.54 396.27,289.64 409.20,289.64 409.20,322.34 422.13,322.34 422.13,286.01 435.07,286.01 435.07,299.33 448.00,299.33 448.00,395.0 292.80,395.0" fill="#8a84bc"/>
<line x1="299.27" y1="395.0" x2="299.27" y2="398.8" stroke="#222" stroke-width="0.9"/>
<line x1="312.20" y1="395.0" x2="312.20" y2="398.8" stroke="#222" stroke-width="0.9"/>
<line x1="325.13" y1="395.0" x2="325.13" y2="398.8" stroke="#222" stroke-width="0.9"/>
<line x1="338.07" y1="395.0" x2="338.07" y2="398.8" stroke="#222" stroke-width="0.9"/>
<line x1="351.00" y1="395.0" x2="351.00" y2="398.8" stroke="#222" stroke-width="0.9"/>
<line x1="363.93" y1="395.0" x2="363.93" y2="398.8" stroke="#222" stroke-width="0.9"/>
<line x1="376.87" y1="395.0" x2="376.87" y2="398.8" stroke="#222" stroke-width="0.9"/>
<line x1="389.80" y1="395.0" x2="389.80" y2="398.8" stroke="#222" stroke-width="0.9"/>
<line x1="402.73" y1="395.0" x2="402.73" y2="398.8" stroke="#222" stroke-width="0.9"/>
<line x1="415.67" y1="395.0" x2="415.67" y2="398.8" stroke="#222" stroke-width="0.9"/>
<line x1="428.60" y1="395.0" x2="428.60" y2="398.8" stroke="#222" stroke-width="0.9"/>
<line x1="441.53" y1="395.0" x2="441.53" y2="398.8" stroke="#222" stroke-width="0.9"/>
<text transform="translate(301.87,421.30) rotate(-90)" x="0" y="0" font-size="7.6" fill="#222" stroke="#222" font-weight="normal" textLength="20.20" lengthAdjust="spacingAndGlyphs">A308</text>
<text transform="translate(314.80,420.90) rotate(-90)" x="0" y="0" font-size="7.6" fill="#222" stroke="#222" font-weight="normal" textLength="19.80" lengthAdjust="spacingAndGlyphs">V659</text>
<text transform="translate(327.73,420.90) rotate(-90)" x="0" y="0" font-size="7.6" fill="#222" stroke="#222" font-weight="normal" textLength="19.80" lengthAdjust="spacingAndGlyphs">V661</text>
<text transform="translate(340.67,420.90) rotate(-90)" x="0" y="0" font-size="7.6" fill="#222" stroke="#222" font-weight="normal" textLength="19.80" lengthAdjust="spacingAndGlyphs">X693</text>
<text transform="translate(353.60,422.10) rotate(-90)" x="0" y="0" font-size="7.6" fill="#222" stroke="#222" font-weight="normal" textLength="21.00" lengthAdjust="spacingAndGlyphs">M060</text>
<text transform="translate(366.53,422.10) rotate(-90)" x="0" y="0" font-size="7.6" fill="#222" stroke="#222" font-weight="normal" textLength="21.00" lengthAdjust="spacingAndGlyphs">M061</text>
<text transform="translate(379.47,422.10) rotate(-90)" x="0" y="0" font-size="7.6" fill="#222" stroke="#222" font-weight="normal" textLength="21.00" lengthAdjust="spacingAndGlyphs">M062</text>
<text transform="translate(392.40,422.10) rotate(-90)" x="0" y="0" font-size="7.6" fill="#222" stroke="#222" font-weight="normal" textLength="21.00" lengthAdjust="spacingAndGlyphs">M193</text>
<text transform="translate(405.33,422.10) rotate(-90)" x="0" y="0" font-size="7.6" fill="#222" stroke="#222" font-weight="normal" textLength="21.00" lengthAdjust="spacingAndGlyphs">M248</text>
<text transform="translate(418.27,422.10) rotate(-90)" x="0" y="0" font-size="7.6" fill="#222" stroke="#222" font-weight="normal" textLength="21.00" lengthAdjust="spacingAndGlyphs">M249</text>
<text transform="translate(431.20,422.10) rotate(-90)" x="0" y="0" font-size="7.6" fill="#222" stroke="#222" font-weight="normal" textLength="21.00" lengthAdjust="spacingAndGlyphs">M250</text>
<text transform="translate(444.13,420.90) rotate(-90)" x="0" y="0" font-size="7.6" fill="#222" stroke="#222" font-weight="normal" textLength="19.80" lengthAdjust="spacingAndGlyphs">W938</text>
<text x="278.70" y="397.10" font-size="7.6" fill="#222" stroke="#222" font-weight="normal" textLength="10.80" lengthAdjust="spacingAndGlyphs">0.0</text>
<text x="278.70" y="372.88" font-size="7.6" fill="#222" stroke="#222" font-weight="normal" textLength="10.80" lengthAdjust="spacingAndGlyphs">0.2</text>
<text x="278.70" y="348.66" font-size="7.6" fill="#222" stroke="#222" font-weight="normal" textLength="10.80" lengthAdjust="spacingAndGlyphs">0.4</text>
<text x="278.70" y="324.44" font-size="7.6" fill="#222" stroke="#222" font-weight="normal" textLength="10.80" lengthAdjust="spacingAndGlyphs">0.6</text>
<text x="278.70" y="300.22" font-size="7.6" fill="#222" stroke="#222" font-weight="normal" textLength="10.80" lengthAdjust="spacingAndGlyphs">0.8</text>
<text x="278.70" y="276.00" font-size="7.6" fill="#222" stroke="#222" font-weight="normal" textLength="10.80" lengthAdjust="spacingAndGlyphs">1.0</text>
<text transform="translate(273.80,368.40) rotate(-90)" x="0" y="0" font-size="9.4" fill="#222" stroke="#222" font-weight="normal" textLength="67.40" lengthAdjust="spacingAndGlyphs">Relative abundance</text>
<text x="456.50" y="279.20" font-size="6.8" fill="#111" stroke="#111" font-weight="bold" textLength="54.70" lengthAdjust="spacingAndGlyphs">SourceTracker2</text>
<rect x="461.2" y="282.1" width="11.5" height="4.8" fill="#8a84bc"/>
<rect x="461.2" y="291.5" width="11.5" height="4.7" fill="#a3002b"/>
<rect x="461.2" y="301" width="11.5" height="4.7" fill="#4f5a6b"/>
<text x="475.20" y="286.60" font-size="7.2" fill="#222" stroke="#222" font-weight="normal" textLength="27.70" lengthAdjust="spacingAndGlyphs">Pax5+/-</text>
<text x="475.20" y="296.10" font-size="7.2" fill="#222" stroke="#222" font-weight="normal" textLength="12.30" lengthAdjust="spacingAndGlyphs">WT</text>
<text x="475.20" y="305.40" font-size="7.2" fill="#222" stroke="#222" font-weight="normal" textLength="32.00" lengthAdjust="spacingAndGlyphs">Unknown</text>
<text x="7.30" y="449.20" font-size="12" fill="#000" stroke="#000" font-weight="bold" textLength="8.50" lengthAdjust="spacingAndGlyphs">D</text>
<text x="35.20" y="460.30" font-size="9.2" fill="#111" stroke="#111" font-weight="normal" textLength="106.10" lengthAdjust="spacingAndGlyphs">two-sided PERMANOVA</text>
<text x="47.50" y="472.10" font-size="9.2" fill="#111" stroke="#111" font-weight="normal" textLength="81.10" lengthAdjust="spacingAndGlyphs">(999 permutations)</text>
<rect x="6.8" y="476.9" width="163.3" height="116.8" fill="none" stroke="#2a2a2a" stroke-width="1.3"/>
<line x1="20.6" y1="486.04999999999995" x2="163.9" y2="486.04999999999995" stroke="#383838" stroke-width="1.2"/><line x1="20.6" y1="483.54999999999995" x2="20.6" y2="488.54999999999995" stroke="#383838" stroke-width="1.2"/><line x1="163.9" y1="483.54999999999995" x2="163.9" y2="488.54999999999995" stroke="#383838" stroke-width="1.2"/><rect x="82.6" y="481.2" width="54.20000000000002" height="9.699999999999989" fill="#68a93e"/><line x1="106.2" y1="481.2" x2="106.2" y2="490.9" stroke="#111" stroke-width="1.5"/>
<line x1="78.5" y1="496.2" x2="154.6" y2="496.2" stroke="#383838" stroke-width="1.2"/><line x1="78.5" y1="493.7" x2="78.5" y2="498.7" stroke="#383838" stroke-width="1.2"/><line x1="154.6" y1="493.7" x2="154.6" y2="498.7" stroke="#383838" stroke-width="1.2"/><rect x="106.2" y="491.2" width="28.799999999999997" height="10.0" fill="#64a8e2"/><line x1="119.3" y1="491.2" x2="119.3" y2="501.2" stroke="#111" stroke-width="1.5"/>
<line x1="44.6" y1="506.55" x2="106.8" y2="506.55" stroke="#383838" stroke-width="1.2"/><line x1="44.6" y1="504.05" x2="44.6" y2="509.05" stroke="#383838" stroke-width="1.2"/><line x1="106.8" y1="504.05" x2="106.8" y2="509.05" stroke="#383838" stroke-width="1.2"/><rect x="70.8" y="501.6" width="19.900000000000006" height="9.899999999999977" fill="#2b4b80"/><line x1="81.9" y1="501.6" x2="81.9" y2="511.5" stroke="#111" stroke-width="1.5"/>
<line x1="20.6" y1="524.55" x2="163.9" y2="524.55" stroke="#383838" stroke-width="1.2"/><line x1="20.6" y1="522.05" x2="20.6" y2="527.05" stroke="#383838" stroke-width="1.2"/><line x1="163.9" y1="522.05" x2="163.9" y2="527.05" stroke="#383838" stroke-width="1.2"/><rect x="82.6" y="519.6" width="54.20000000000002" height="9.899999999999977" fill="#68a93e"/><line x1="106.2" y1="519.6" x2="106.2" y2="529.5" stroke="#111" stroke-width="1.5"/>
<line x1="83.1" y1="535.2" x2="159.7" y2="535.2" stroke="#383838" stroke-width="1.2"/><line x1="83.1" y1="532.7" x2="83.1" y2="537.7" stroke="#383838" stroke-width="1.2"/><line x1="159.7" y1="532.7" x2="159.7" y2="537.7" stroke="#383838" stroke-width="1.2"/><rect x="115.8" y="530.0" width="21.500000000000014" height="10.399999999999977" fill="#64a8e2"/><line x1="125.3" y1="530.0" x2="125.3" y2="540.4" stroke="#111" stroke-width="1.5"/><path d="M76.6,533.6 l1.1,1.6 l-1.1,1.6 l-1.1,-1.6 Z" fill="#222"/><path d="M79.6,533.6 l1.1,1.6 l-1.1,1.6 l-1.1,-1.6 Z" fill="#222"/>
<line x1="42.2" y1="545.65" x2="103.4" y2="545.65" stroke="#383838" stroke-width="1.2"/><line x1="42.2" y1="543.15" x2="42.2" y2="548.15" stroke="#383838" stroke-width="1.2"/><line x1="103.4" y1="543.15" x2="103.4" y2="548.15" stroke="#383838" stroke-width="1.2"/><rect x="60.8" y="540.4" width="18.799999999999997" height="10.5" fill="#2b4b80"/><line x1="70.4" y1="540.4" x2="70.4" y2="550.9" stroke="#111" stroke-width="1.5"/><path d="M14.5,544.05 l1.1,1.6 l-1.1,1.6 l-1.1,-1.6 Z" fill="#222"/>
<line x1="43.8" y1="564.0" x2="106.6" y2="564.0" stroke="#383838" stroke-width="1.2"/><line x1="43.8" y1="561.5" x2="43.8" y2="566.5" stroke="#383838" stroke-width="1.2"/><line x1="106.6" y1="561.5" x2="106.6" y2="566.5" stroke="#383838" stroke-width="1.2"/><rect x="70.9" y="558.8" width="19.599999999999994" height="10.400000000000091" fill="#68a93e"/><line x1="81.9" y1="558.8" x2="81.9" y2="569.2" stroke="#111" stroke-width="1.5"/>
<line x1="72.2" y1="574.3" x2="121.7" y2="574.3" stroke="#383838" stroke-width="1.2"/><line x1="72.2" y1="571.8" x2="72.2" y2="576.8" stroke="#383838" stroke-width="1.2"/><line x1="121.7" y1="571.8" x2="121.7" y2="576.8" stroke="#383838" stroke-width="1.2"/><rect x="88.0" y="569.2" width="16.799999999999997" height="10.199999999999932" fill="#64a8e2"/><line x1="96.2" y1="569.2" x2="96.2" y2="579.4" stroke="#111" stroke-width="1.5"/>
<line x1="42.2" y1="584.6" x2="103.4" y2="584.6" stroke="#383838" stroke-width="1.2"/><line x1="42.2" y1="582.1" x2="42.2" y2="587.1" stroke="#383838" stroke-width="1.2"/><line x1="103.4" y1="582.1" x2="103.4" y2="587.1" stroke="#383838" stroke-width="1.2"/><rect x="60.8" y="579.2" width="18.799999999999997" height="10.799999999999955" fill="#2b4b80"/><line x1="70.4" y1="579.2" x2="70.4" y2="590.0" stroke="#111" stroke-width="1.5"/><path d="M14.5,583.0 l1.1,1.6 l-1.1,1.6 l-1.1,-1.6 Z" fill="#222"/>
<line x1="18.5" y1="593.7" x2="18.5" y2="596.5" stroke="#222" stroke-width="1"/>
<text x="10.35" y="606.90" font-size="8.4" fill="#222" stroke="#222" font-weight="normal" textLength="16.30" lengthAdjust="spacingAndGlyphs">0.20</text>
<line x1="40.1" y1="593.7" x2="40.1" y2="596.5" stroke="#222" stroke-width="1"/>
<text x="31.95" y="606.90" font-size="8.4" fill="#222" stroke="#222" font-weight="normal" textLength="16.30" lengthAdjust="spacingAndGlyphs">0.25</text>
<line x1="61.7" y1="593.7" x2="61.7" y2="596.5" stroke="#222" stroke-width="1"/>
<text x="53.55" y="606.90" font-size="8.4" fill="#222" stroke="#222" font-weight="normal" textLength="16.30" lengthAdjust="spacingAndGlyphs">0.30</text>
<line x1="83.3" y1="593.7" x2="83.3" y2="596.5" stroke="#222" stroke-width="1"/>
<text x="75.15" y="606.90" font-size="8.4" fill="#222" stroke="#222" font-weight="normal" textLength="16.30" lengthAdjust="spacingAndGlyphs">0.35</text>
<line x1="104.9" y1="593.7" x2="104.9" y2="596.5" stroke="#222" stroke-width="1"/>
<text x="96.75" y="606.90" font-size="8.4" fill="#222" stroke="#222" font-weight="normal" textLength="16.30" lengthAdjust="spacingAndGlyphs">0.40</text>
<line x1="126.5" y1="593.7" x2="126.5" y2="596.5" stroke="#222" stroke-width="1"/>
<text x="118.35" y="606.90" font-size="8.4" fill="#222" stroke="#222" font-weight="normal" textLength="16.30" lengthAdjust="spacingAndGlyphs">0.45</text>
<line x1="148.1" y1="593.7" x2="148.1" y2="596.5" stroke="#222" stroke-width="1"/>
<text x="139.95" y="606.90" font-size="8.4" fill="#222" stroke="#222" font-weight="normal" textLength="16.30" lengthAdjust="spacingAndGlyphs">0.50</text>
<line x1="169.7" y1="593.7" x2="169.7" y2="596.5" stroke="#222" stroke-width="1"/>
<text x="161.55" y="606.90" font-size="8.4" fill="#222" stroke="#222" font-weight="normal" textLength="16.30" lengthAdjust="spacingAndGlyphs">0.55</text>
<text x="53.80" y="619.80" font-size="9.6" fill="#222" stroke="#222" font-weight="normal" textLength="69.40" lengthAdjust="spacingAndGlyphs">Unweighted uniFrac</text>
<line x1="170" y1="496.2" x2="172.6" y2="496.2" stroke="#222" stroke-width="1"/>
<line x1="170" y1="535.6" x2="172.6" y2="535.6" stroke="#222" stroke-width="1"/>
<line x1="170" y1="574.6" x2="172.6" y2="574.6" stroke="#222" stroke-width="1"/>
<text x="176.00" y="488.70" font-size="7.3" fill="#333" stroke="#333" font-weight="normal" textLength="74.00" lengthAdjust="spacingAndGlyphs">ETV6-RUNX1 (n=12)</text>
<text x="176.00" y="498.50" font-size="7.3" fill="#000" stroke="#000" font-weight="bold" textLength="30.80" lengthAdjust="spacingAndGlyphs">p: 0.001</text>
<text x="176.00" y="508.80" font-size="7.3" fill="#333" stroke="#333" font-weight="normal" textLength="54.40" lengthAdjust="spacingAndGlyphs">Pax5+/- (n=10)</text>
<text x="176.00" y="528.30" font-size="7.3" fill="#333" stroke="#333" font-weight="normal" textLength="74.00" lengthAdjust="spacingAndGlyphs">ETV6-RUNX1 (n=12)</text>
<text x="176.00" y="538.10" font-size="7.3" fill="#000" stroke="#000" font-weight="bold" textLength="30.80" lengthAdjust="spacingAndGlyphs">p: 0.001</text>
<text x="176.00" y="548.40" font-size="7.3" fill="#333" stroke="#333" font-weight="normal" textLength="38.10" lengthAdjust="spacingAndGlyphs">WT (n=12)</text>
<text x="176.00" y="567.30" font-size="7.3" fill="#333" stroke="#333" font-weight="normal" textLength="54.40" lengthAdjust="spacingAndGlyphs">Pax5+/- (n=10)</text>
<text x="176.00" y="577.10" font-size="7.3" fill="#000" stroke="#000" font-weight="bold" textLength="30.80" lengthAdjust="spacingAndGlyphs">p: 0.001</text>
<text x="176.00" y="587.40" font-size="7.3" fill="#333" stroke="#333" font-weight="normal" textLength="38.10" lengthAdjust="spacingAndGlyphs">WT (n=12)</text>
<text x="265.10" y="449.00" font-size="12" fill="#000" stroke="#000" font-weight="bold" textLength="7.60" lengthAdjust="spacingAndGlyphs">E</text>
<text x="316.50" y="475.20" font-size="8.8" fill="#111" stroke="#111" font-weight="normal" textLength="104.70" lengthAdjust="spacingAndGlyphs">median accurracy: 0.941</text>
<rect x="329.6" y="480.6" width="26.60" height="27.20" fill="#f5f9fe"/>
<text x="342.8" y="497.20000000000005" font-size="8.6" fill="#222" stroke="#222" font-weight="normal" text-anchor="middle">0</text>
<rect x="356.0" y="480.6" width="26.70" height="27.20" fill="#f5f9fe"/>
<text x="369.25" y="497.20000000000005" font-size="8.6" fill="#222" stroke="#222" font-weight="normal" text-anchor="middle">0</text>
<rect x="382.5" y="480.6" width="26.50" height="27.20" fill="#4a80c2"/>
<text x="395.65" y="497.20000000000005" font-size="8.6" fill="#222" stroke="#222" font-weight="normal" text-anchor="middle">5</text>
<rect x="329.6" y="507.6" width="26.60" height="27.40" fill="#dae6f3"/>
<text x="342.8" y="524.3000000000001" font-size="8.6" fill="#222" stroke="#222" font-weight="normal" text-anchor="middle">1</text>
<rect x="356.0" y="507.6" width="26.70" height="27.40" fill="#6ca1d1"/>
<text x="369.25" y="524.3000000000001" font-size="8.6" fill="#222" stroke="#222" font-weight="normal" text-anchor="middle">4</text>
<rect x="382.5" y="507.6" width="26.50" height="27.40" fill="#f5f9fe"/>
<text x="395.65" y="524.3000000000001" font-size="8.6" fill="#222" stroke="#222" font-weight="normal" text-anchor="middle">0</text>
<rect x="329.6" y="534.8" width="26.60" height="27.30" fill="#1b3670"/>
<text x="342.8" y="551.4499999999999" font-size="8.6" fill="#eee" stroke="#eee" font-weight="normal" text-anchor="middle">7</text>
<rect x="356.0" y="534.8" width="26.70" height="27.30" fill="#f5f9fe"/>
<text x="369.25" y="551.4499999999999" font-size="8.6" fill="#222" stroke="#222" font-weight="normal" text-anchor="middle">0</text>
<rect x="382.5" y="534.8" width="26.50" height="27.30" fill="#f5f9fe"/>
<text x="395.65" y="551.4499999999999" font-size="8.6" fill="#222" stroke="#222" font-weight="normal" text-anchor="middle">0</text>
<rect x="329.6" y="480.6" width="79.2" height="81.3" fill="none" stroke="#111" stroke-width="1.4"/>
<text x="313.90" y="496.40" font-size="7.6" fill="#222" stroke="#222" font-weight="normal" textLength="11.90" lengthAdjust="spacingAndGlyphs">WT</text>
<text x="297.80" y="523.50" font-size="7.6" fill="#222" stroke="#222" font-weight="normal" textLength="28.00" lengthAdjust="spacingAndGlyphs">Pax5+/-</text>
<text x="278.60" y="550.90" font-size="7.6" fill="#222" stroke="#222" font-weight="normal" textLength="47.20" lengthAdjust="spacingAndGlyphs">ETV6-RUNX1</text>
<text transform="translate(272.20,545.80) rotate(-90)" x="0" y="0" font-size="9.0" fill="#222" stroke="#222" font-weight="normal" textLength="48.50" lengthAdjust="spacingAndGlyphs">True genotype</text>
<text transform="translate(345.10,612.70) rotate(-90)" x="0" y="0" font-size="7.7" fill="#222" stroke="#222" font-weight="normal" textLength="46.50" lengthAdjust="spacingAndGlyphs">ETV6-RUNX1</text>
<text transform="translate(371.90,593.80) rotate(-90)" x="0" y="0" font-size="7.7" fill="#222" stroke="#222" font-weight="normal" textLength="27.60" lengthAdjust="spacingAndGlyphs">Pax5+/-</text>
<text transform="translate(398.00,577.40) rotate(-90)" x="0" y="0" font-size="7.7" fill="#222" stroke="#222" font-weight="normal" textLength="11.20" lengthAdjust="spacingAndGlyphs">WT</text>
<text x="336.50" y="624.60" font-size="10" fill="#222" stroke="#222" font-weight="normal" textLength="65.40" lengthAdjust="spacingAndGlyphs">Predicted genotype</text>
<rect x="438.3" y="456.1" width="20.3" height="105.8" fill="none" stroke="#111" stroke-width="1.2"/>
<line x1="458.6" y1="461.6" x2="461.2" y2="461.6" stroke="#222" stroke-width="1"/>
<text x="463.30" y="464.30" font-size="7.8" fill="#222" stroke="#222" font-weight="normal" textLength="11.40" lengthAdjust="spacingAndGlyphs">1.0</text>
<line x1="458.6" y1="484.8" x2="461.2" y2="484.8" stroke="#222" stroke-width="1"/>
<text x="463.30" y="487.48" font-size="7.8" fill="#222" stroke="#222" font-weight="normal" textLength="11.40" lengthAdjust="spacingAndGlyphs">0.9</text>
<line x1="458.6" y1="508.0" x2="461.2" y2="508.0" stroke="#222" stroke-width="1"/>
<text x="463.30" y="510.66" font-size="7.8" fill="#222" stroke="#222" font-weight="normal" textLength="11.40" lengthAdjust="spacingAndGlyphs">0.8</text>
<line x1="458.6" y1="531.1" x2="461.2" y2="531.1" stroke="#222" stroke-width="1"/>
<text x="463.30" y="533.84" font-size="7.8" fill="#222" stroke="#222" font-weight="normal" textLength="11.40" lengthAdjust="spacingAndGlyphs">0.7</text>
<line x1="458.6" y1="554.3" x2="461.2" y2="554.3" stroke="#222" stroke-width="1"/>
<text x="463.30" y="557.02" font-size="7.8" fill="#222" stroke="#222" font-weight="normal" textLength="11.40" lengthAdjust="spacingAndGlyphs">0.6</text>
<circle cx="443.9" cy="461.6" r="1.2" fill="#1b2f6e"/>
<circle cx="446.9" cy="461.6" r="1.2" fill="#1b2f6e"/>
<circle cx="449.9" cy="461.6" r="1.2" fill="#1b2f6e"/>
<circle cx="452.7" cy="461.6" r="1.2" fill="#1b2f6e"/>
<circle cx="446.6" cy="475.3" r="1.2" fill="#1b2f6e"/>
<circle cx="449.4" cy="475.3" r="1.2" fill="#1b2f6e"/>
<circle cx="452.1" cy="475.3" r="1.2" fill="#1b2f6e"/>
<circle cx="449.4" cy="489" r="1.2" fill="#1b2f6e"/>
<circle cx="449.4" cy="516.6" r="1.2" fill="#1b2f6e"/>
<circle cx="449.4" cy="557.4" r="1.2" fill="#1b2f6e"/>
<text transform="translate(486.80,525.20) rotate(-90)" x="0" y="0" font-size="10.2" fill="#222" stroke="#222" font-weight="normal" textLength="31.60" lengthAdjust="spacingAndGlyphs">Accuracy</text>
<text x="427.30" y="573.30" font-size="9.2" fill="#222" stroke="#222" font-weight="normal" textLength="42.10" lengthAdjust="spacingAndGlyphs">10 iterations</text>
<text transform="translate(499.60,586.10) rotate(-90)" x="0" y="0" font-size="8.6" fill="#222" stroke="#222" font-weight="normal" textLength="27.10" lengthAdjust="spacingAndGlyphs">training</text>
<text transform="translate(510.80,586.10) rotate(-90)" x="0" y="0" font-size="8.6" fill="#222" stroke="#222" font-weight="normal" textLength="24.90" lengthAdjust="spacingAndGlyphs">testing</text>
<text x="445.20" y="595.60" font-size="7.8" fill="#222" stroke="#222" font-weight="normal" textLength="47.40" lengthAdjust="spacingAndGlyphs">ETV6-RUNX1</text>
<text x="445.20" y="606.90" font-size="7.8" fill="#222" stroke="#222" font-weight="normal" textLength="27.70" lengthAdjust="spacingAndGlyphs">Pax5<tspan font-size="5" dy="-2.8">+/-</tspan></text>
<text x="445.20" y="618.60" font-size="7.8" fill="#222" stroke="#222" font-weight="normal" textLength="32.50" lengthAdjust="spacingAndGlyphs">Wildtype</text>
<text x="495.90" y="595.60" font-size="7.8" fill="#222" stroke="#222" font-weight="normal" textLength="4.60" lengthAdjust="spacingAndGlyphs">5</text>
<text x="506.20" y="595.60" font-size="7.8" fill="#222" stroke="#222" font-weight="normal" textLength="4.60" lengthAdjust="spacingAndGlyphs">7</text>
<text x="495.90" y="606.90" font-size="7.8" fill="#222" stroke="#222" font-weight="normal" textLength="4.60" lengthAdjust="spacingAndGlyphs">5</text>
<text x="506.20" y="606.90" font-size="7.8" fill="#222" stroke="#222" font-weight="normal" textLength="4.60" lengthAdjust="spacingAndGlyphs">5</text>
<text x="495.90" y="618.40" font-size="7.8" fill="#222" stroke="#222" font-weight="normal" textLength="4.60" lengthAdjust="spacingAndGlyphs">7</text>
<text x="506.20" y="618.40" font-size="7.8" fill="#222" stroke="#222" font-weight="normal" textLength="4.60" lengthAdjust="spacingAndGlyphs">5</text>
<rect x="0.5" y="0.5" width="519" height="633" fill="none" stroke="#000" stroke-width="1.2"/>
</svg></body></html>
